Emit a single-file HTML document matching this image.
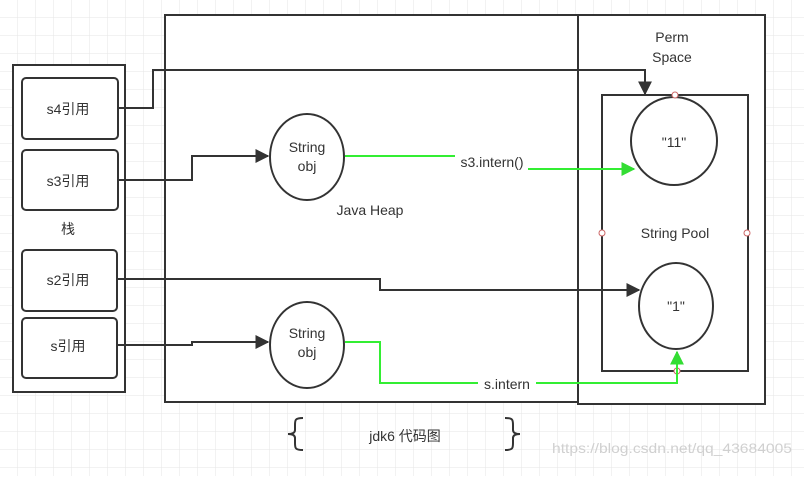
<!DOCTYPE html>
<html><head><meta charset="utf-8"><style>
body{margin:0;width:804px;height:476px;overflow:hidden;background:#fff;}
svg text{font-family:"Liberation Sans","Noto Sans CJK SC",sans-serif;fill:#333;}
</style></head><body>
<svg width="804" height="476" xmlns="http://www.w3.org/2000/svg">
<defs>
<pattern id="g" width="18" height="18" patternUnits="userSpaceOnUse"><path d="M18 0V18H0" fill="none" stroke="#e6e6e6" stroke-width="1"/></pattern>
<marker id="a" viewBox="0 0 10 10" refX="9" refY="5" markerWidth="7" markerHeight="7" orient="auto"><path d="M0 0L10 5L0 10z" fill="#333"/></marker>
<marker id="ag" viewBox="0 0 10 10" refX="9" refY="5" markerWidth="7" markerHeight="7" orient="auto"><path d="M0 0L10 5L0 10z" fill="#3d3"/></marker>
</defs>
<rect width="804" height="476" fill="url(#g)"/>
<g fill="#fff" stroke="#333" stroke-width="2">
<rect x="165" y="15" width="413" height="387"/>
<rect x="578" y="15" width="187" height="389"/>
<rect x="602" y="95" width="146" height="276"/>
<rect x="13" y="65" width="112" height="327"/>
<rect x="22" y="78" width="96" height="61" rx="4"/>
<rect x="22" y="150" width="96" height="60" rx="4"/>
<rect x="22" y="250" width="95" height="61" rx="4"/>
<rect x="22" y="318" width="95" height="60" rx="4"/>
<ellipse cx="674" cy="141" rx="43" ry="44"/>
<ellipse cx="676" cy="306" rx="37" ry="43"/>
<ellipse cx="307" cy="157" rx="37" ry="43"/>
<ellipse cx="307" cy="345" rx="37" ry="43"/>
</g>
<g fill="#fff" stroke="#c66" stroke-width="1">
<circle cx="675" cy="95" r="3"/><circle cx="602" cy="233" r="3"/><circle cx="747" cy="233" r="3"/><circle cx="677" cy="371" r="3"/>
</g>
<g fill="none" stroke="#333" stroke-width="2">
<path d="M118 108H153V70H645V94" marker-end="url(#a)"/>
<path d="M118 180H192V156H268" marker-end="url(#a)"/>
<path d="M118 279H380V290H639" marker-end="url(#a)"/>
<path d="M118 345H192V342H268" marker-end="url(#a)"/>
</g>
<g fill="none" stroke="#3e3" stroke-width="2">
<path d="M345 156H455"/>
<path d="M528 169H634" marker-end="url(#ag)"/>
<path d="M345 342H380V383H478M536 383H677V352" />
<path d="M677 360V352" marker-end="url(#ag)"/>
</g>
<g font-size="14" text-anchor="middle">
<text x="68" y="114">s4引用</text>
<text x="68" y="186">s3引用</text>
<text x="68" y="234">栈</text>
<text x="68" y="285">s2引用</text>
<text x="68" y="351">s引用</text>
<text x="307" y="152">String</text><text x="307" y="171">obj</text>
<text x="307" y="338">String</text><text x="307" y="357">obj</text>
<text x="370" y="215">Java Heap</text>
<text x="492" y="167">s3.intern()</text>
<text x="507" y="389">s.intern</text>
<text x="672" y="42">Perm</text><text x="672" y="62">Space</text>
<text x="674" y="147">"11"</text>
<text x="676" y="311">"1"</text>
<text x="675" y="238">String Pool</text>
<text x="405" y="441">jdk6 代码图</text>
<text x="672" y="453" style="fill:#d0d0d0" font-size="14" textLength="240" lengthAdjust="spacingAndGlyphs">https://blog.csdn.net/qq_43684005</text>
</g>
<g fill="none" stroke="#333" stroke-width="2">
<path d="M303 418C295 418 295 420 295 425V430C295 433 292 434 288 434C292 434 295 435 295 438V443C295 448 295 450 303 450"/>
<path d="M505 418C513 418 513 420 513 425V430C513 433 516 434 520 434C516 434 513 435 513 438V443C513 448 513 450 505 450"/>
</g>
</svg>
</body></html>
